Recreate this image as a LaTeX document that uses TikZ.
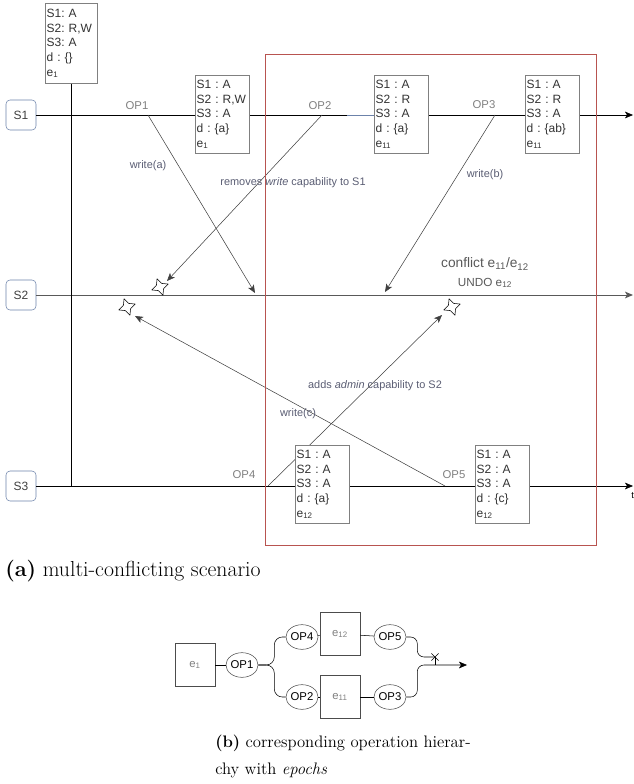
\documentclass[tikz,border=0pt]{standalone}
\usepackage{fontspec}
\setsansfont{Liberation Sans}
\usepackage{tikz}
\usetikzlibrary{arrows.meta,shapes.geometric,shapes.misc}
\definecolor{notegray}{RGB}{90,93,115}
\definecolor{zonered}{RGB}{184,84,80}
\definecolor{laneblue}{RGB}{108,130,170}
\tikzset{
    lane/.style={draw=laneblue,rounded corners=3pt,minimum size=22.5pt,inner sep=0pt,text=darkgray,font=\sffamily\fontsize{9}{11}\selectfont},
    statebox/.style={draw=gray,fill=white,anchor=north west,align=left,text width=38.5pt,inner sep=1pt,minimum height=58.5pt,text=black!80,font=\sffamily\fontsize{9}{11}\selectfont},
    oplabel/.style={text=gray,font=\sffamily\fontsize{8.5}{10}\selectfont},
    note/.style={text=notegray,font=\sffamily\fontsize{8.2}{10}\selectfont},
    cross4/.style={star,star points=4,star point ratio=2.2,draw,fill=white,minimum size=13pt,inner sep=0pt,rotate=20},
    opnode/.style={ellipse,draw=black!70,minimum width=23pt,minimum height=18.5pt,inner sep=0pt,font=\sffamily\fontsize{8.5}{10}\selectfont},
    epoch/.style={draw=black!70,minimum width=30pt,minimum height=32pt,inner sep=0pt,text=gray,font=\sffamily\fontsize{8.5}{10}\selectfont},
    msg/.style={-{Stealth[length=6pt,width=5pt,inset=1.5pt]}}
}
\newcommand{\ep}[1]{e\textsubscript{#1}}

\begin{document}
\frenchspacing
\begin{tikzpicture}[x=0.75pt,y=-0.75pt]
\useasboundingbox (0,0) rectangle (634,784);
% sites
\node[lane] (S1) at (21,115) {S1};
\node[lane] (S2) at (21,295) {S2};
\node[lane] (S3) at (21,486) {S3};
\coordinate (end1) at (633,115);
\coordinate (end2) at (633,295);
\coordinate (end3) at (633,486);
\draw[msg] (S1) -- (end1);
\draw[msg,draw=black!65,line width=0.7pt] (S2) -- (end2);
\draw[msg] (S3) -- (end3);
\node[anchor=north west,inner sep=0pt,font=\sffamily\fontsize{7}{8}\selectfont] (t) at (631,492) {t};

% initial state
\node[statebox,minimum height=60pt,text width=37pt] (init) at (45,3) {S1: A\\S2: R,W\\S3: A\\d : \{\}\\\ep{1}};
\draw (init.south) -- (init.south |- S3);

% operations
\coordinate (op1) at (148,115);
\coordinate (op2) at (322,115);
\coordinate (op3) at (495,115);
\coordinate (op4) at (268,486);
\coordinate (op5) at (445,486);
\coordinate (blue) at (347,115);
\draw[laneblue] (blue) -- (374,115);
\node[oplabel] (lop1) at (137,106) {OP1};
\node[oplabel] (lop2) at (320,106) {OP2};
\node[oplabel] (lop3) at (484,105) {OP3};
\node[oplabel] (lop4) at (244,475) {OP4};
\node[oplabel] (lop5) at (454,475) {OP5};

% messages
\coordinate (hitA) at (255,293);
\coordinate (hitR) at (167,281);
\coordinate (hitB) at (385,292);
\coordinate (hitD) at (442,315);
\coordinate (hitC) at (135,316);
\draw[msg,draw=black!75] (op1) -- (hitA);
\draw[msg,draw=black!75] (op2) -- (hitR);
\draw[msg,draw=black!75] (op3) -- (hitB);
\draw[msg,draw=black!75] (op4) -- (hitD);
\draw[msg,draw=black!75] (op5) -- (hitC);
\node[cross4] (x1) at (160,287) {};
\node[cross4] (x2) at (127,307) {};
\node[cross4] (x3) at (452,307) {};

\node[note] (wa) at (148,166) {write(a)};
\node[note] (rm) at (293,183) {removes \textit{write} capability to S1};
\node[note] (wb) at (485,175) {write(b)};
\node[note] (ad) at (375,386) {adds \textit{admin} capability to S2};
\node[note] (wc) at (298,414) {write(c)};
\node[text=black!65,font=\sffamily\fontsize{10.3}{12}\selectfont] (cf) at (485,264) {conflict \ep{11}/\ep{12}};
\node[text=black!65,font=\sffamily\fontsize{8.8}{10}\selectfont] (undo) at (485,283) {UNDO \ep{12}};

% states
\node[statebox] (b1) at (195,75) {S1 : A\\S2 : R,W\\S3 : A\\d : \{a\}\\\ep{1}};
\node[statebox] (b2) at (374,75) {S1 : A\\S2 : R\\S3 : A\\d : \{a\}\\\ep{11}};
\node[statebox] (b3) at (525,75) {S1 : A\\S2 : R\\S3 : A\\d : \{ab\}\\\ep{11}};
\node[statebox] (b4) at (295,445) {S1 : A\\S2 : A\\S3 : A\\d : \{a\}\\\ep{12}};
\node[statebox] (b5) at (475,445) {S1 : A\\S2 : A\\S3 : A\\d : \{c\}\\\ep{12}};

% conflicting zone
\draw[zonered] (265,54) rectangle (596,545);

\node[anchor=base west,inner sep=0pt,font=\fontsize{16.3}{19}\selectfont] (capa) at (5,576) {\textbf{(a)} multi-conflicting scenario};

% hierarchy
\node[epoch] (e1) at (195,665) {\ep{1}};
\node[opnode] (p1) at (242,665) {OP1};
\node[opnode] (p4) at (302,637) {OP4};
\node[epoch] (e12) at (340,634) {\ep{12}};
\node[opnode] (p5) at (390,637) {OP5};
\node[opnode] (p2) at (302,697) {OP2};
\node[epoch] (e11) at (340,697) {\ep{11}};
\node[opnode] (p3) at (390,697) {OP3};
\draw (e1) -- (p1);
\draw (p4) -- (e12) -- (p5);
\draw (p2) -- (e11) -- (p3);
\draw[rounded corners=6pt] (p1.east) -- ++(16,0) |- (p4.west);
\draw[rounded corners=6pt] (p1.east) -- ++(16,0) |- (p2.west);
\node[cross out,draw,minimum size=5pt,inner sep=0pt] (xm) at (435,657) {};
\coordinate (out) at (467,665);
\draw[rounded corners=5pt] (p5.east) -- ++(11,0) |- (xm.center);
\draw[msg,rounded corners=5pt] (p3.east) -- ++(11,0) |- (out);
\draw (xm.center) -- (xm.center |- out);

\node[anchor=base west,align=left,inner sep=0pt,font=\fontsize{12.5}{20}\selectfont] (capb) at (215,774) {\textbf{(b)} corresponding operation hierar-\\chy with \textit{epochs}};
\end{tikzpicture}
\end{document}
